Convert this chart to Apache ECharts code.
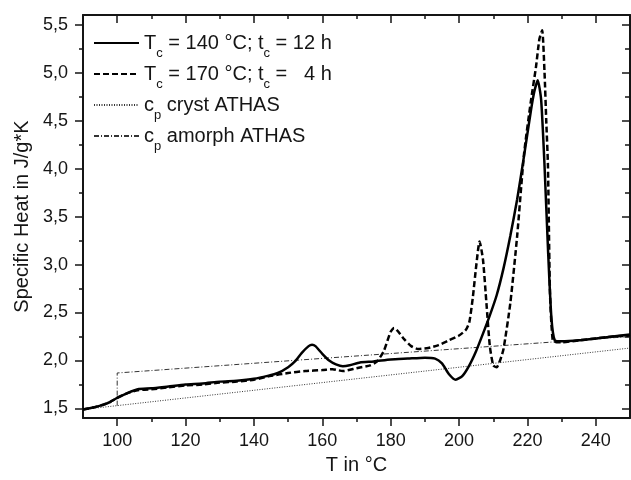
<!DOCTYPE html>
<html>
<head>
<meta charset="utf-8">
<script src="https://cdn.jsdelivr.net/npm/echarts@6/dist/echarts.min.js"></script>
<style>html,body{margin:0;padding:0;background:#fff;}#c{width:631px;height:480px;}</style>
</head>
<body>
<div id="c"></div>
<script>
// ---- data ----
const T140 = [90, 93, 96, 98, 100, 103, 106, 110, 115, 120, 125, 130, 135, 140, 144, 147, 150, 152, 154, 156, 157, 158, 160, 162, 164, 166, 168, 171, 175, 180, 185, 190, 193, 195, 197, 199, 201, 203, 205, 207, 209, 211, 213, 215, 217, 219, 221, 222, 223, 224, 225, 226, 227, 228, 230, 235, 240, 245, 250];
const cp140 = [1.49, 1.51, 1.54, 1.57, 1.61, 1.66, 1.70, 1.71, 1.73, 1.75, 1.76, 1.78, 1.79, 1.81, 1.84, 1.87, 1.93, 1.99, 2.08, 2.15, 2.165, 2.15, 2.07, 2.00, 1.96, 1.94, 1.95, 1.98, 1.99, 2.01, 2.02, 2.03, 2.02, 1.97, 1.86, 1.80, 1.84, 1.95, 2.10, 2.28, 2.47, 2.68, 2.96, 3.30, 3.68, 4.13, 4.60, 4.80, 4.92, 4.72, 4.03, 3.17, 2.45, 2.21, 2.20, 2.21, 2.23, 2.25, 2.27];

const T170 = [90, 93, 96, 98, 100, 103, 106, 110, 115, 120, 125, 130, 135, 140, 145, 150, 155, 160, 163, 166, 170, 174, 176, 178, 180, 181, 182, 184, 186, 188, 191, 194, 197, 200, 202, 203, 204, 205, 206, 207, 208, 209, 210, 211, 212, 213, 215, 217, 219, 221, 222.5, 223.5, 224.3, 225, 225.5, 226, 226.6, 227.4, 228.5, 230, 235, 240, 245, 250];
const cp170 = [1.49, 1.51, 1.54, 1.57, 1.61, 1.66, 1.69, 1.70, 1.72, 1.74, 1.75, 1.77, 1.78, 1.80, 1.84, 1.87, 1.89, 1.90, 1.91, 1.89, 1.92, 1.95, 1.99, 2.10, 2.30, 2.34, 2.31, 2.22, 2.15, 2.12, 2.13, 2.16, 2.21, 2.26, 2.32, 2.40, 2.65, 2.98, 3.24, 3.05, 2.60, 2.15, 1.95, 1.93, 2.00, 2.12, 2.60, 3.30, 4.15, 4.70, 5.06, 5.35, 5.44, 5.00, 4.50, 4.03, 2.70, 2.21, 2.19, 2.19, 2.21, 2.23, 2.25, 2.26];

const Tcryst = [90, 250];
const cpCryst = [1.49, 2.13];

const Tamorph = [100, 100, 250];
const cpAmorph = [1.53, 1.87, 2.25];

const xMajor = [100, 120, 140, 160, 180, 200, 220, 240];
const xMinor = [110, 130, 150, 170, 190, 210, 230];
const yMajor = [1.5, 2.0, 2.5, 3.0, 3.5, 4.0, 4.5, 5.0, 5.5];
const yMinor = [1.75, 2.25, 2.75, 3.25, 3.75, 4.25, 4.75, 5.25];

const names = ['s140', 's170', 'cryst', 'amorph'];
const legendRich = {
  s140: '{n|T}{s|c}{n| = 140 °C; t}{s|c}{n| = 12 h}',
  s170: '{n|T}{s|c}{n| = 170 °C; t}{s|c}{n| =   4 h}',
  cryst: '{n|c}{s|p}{n| cryst ATHAS}',
  amorph: '{n|c}{s|p}{n| amorph ATHAS}'
};

const zip = (a, b) => a.map((v, i) => [v, b[i]]);
const FONT = 'Liberation Sans, Arial, sans-serif';
const INK = '#151515';

function xAx(pos, inside, vals, len, withLine, labels) {
  return {
    type: 'value', min: 90, max: 250, position: pos,
    axisLine: { show: withLine, onZero: false, lineStyle: { color: INK, width: 2 } },
    axisTick: { show: true, inside: inside, length: len, customValues: vals, lineStyle: { color: INK, width: 1.5 } },
    axisLabel: labels ? { show: true, customValues: xMajor, color: INK, fontSize: 18, fontFamily: FONT, margin: 14 } : { show: false },
    splitLine: { show: false },
    name: labels ? 'T in °C' : '', nameLocation: 'middle', nameGap: 36,
    nameTextStyle: { fontSize: 20, fontFamily: FONT, color: INK }
  };
}
function yAx(pos, inside, vals, len, withLine, labels) {
  return {
    type: 'value', min: 1.4, max: 5.6, position: pos,
    axisLine: { show: withLine, onZero: false, lineStyle: { color: INK, width: 2 } },
    axisTick: { show: true, inside: inside, length: len, customValues: vals, lineStyle: { color: INK, width: 1.5 } },
    axisLabel: labels ? { show: true, customValues: yMajor, color: INK, fontSize: 18, fontFamily: FONT, margin: 15,
      formatter: v => v.toFixed(1).replace('.', ',') } : { show: false },
    splitLine: { show: false },
    name: labels ? 'Specific Heat in J/g*K' : '', nameLocation: 'middle', nameGap: 46, nameRotate: 90,
    nameTextStyle: { fontSize: 20, fontFamily: FONT, color: INK }
  };
}

const chart = echarts.init(document.getElementById('c'), null, { renderer: 'canvas' });
chart.setOption({
  animation: false,
  backgroundColor: '#fff',
  grid: { left: 83, right: 1, top: 15, bottom: 59, containLabel: false },
  legend: {
    orient: 'vertical', left: 88, top: 21, itemWidth: 45, itemHeight: 14, itemGap: -3,
    data: names, selectedMode: false,
    itemStyle: { opacity: 0 },
    formatter: n => legendRich[n],
    textStyle: {
      color: INK, fontFamily: FONT,
      rich: {
        n: { fontSize: 20, lineHeight: 20, fontFamily: FONT, color: INK },
        s: { fontSize: 13, lineHeight: 13, padding: [21, 0, 0, 0], fontFamily: FONT, color: INK }
      }
    }
  },
  xAxis: [
    xAx('bottom', false, xMajor, 8, true, true),
    xAx('bottom', false, xMinor, 4, false, false),
    xAx('top', true, xMajor, 8, true, false),
    xAx('top', true, xMinor, 4, false, false)
  ],
  yAxis: [
    yAx('left', false, yMajor, 8, true, true),
    yAx('left', false, yMinor, 4, false, false),
    yAx('right', true, yMajor, 8, true, false),
    yAx('right', true, yMinor, 5, false, false)
  ],
  series: [
    { name: 's140', type: 'line', symbol: 'none', smooth: 0.2, data: zip(T140, cp140),
      lineStyle: { color: '#000', width: 2.5, type: 'solid' }, itemStyle: { color: '#000' }, z: 4 },
    { name: 's170', type: 'line', symbol: 'none', smooth: 0.2, data: zip(T170, cp170),
      lineStyle: { color: '#000', width: 2.5, type: [6, 3] }, itemStyle: { color: '#000' }, z: 3 },
    { name: 'cryst', type: 'line', symbol: 'none', data: zip(Tcryst, cpCryst),
      lineStyle: { color: '#333', width: 1, type: [1, 1.5] }, itemStyle: { color: '#333' }, z: 2 },
    { name: 'amorph', type: 'line', symbol: 'none', data: zip(Tamorph, cpAmorph),
      lineStyle: { color: '#333', width: 1, type: [5, 2, 1, 2] }, itemStyle: { color: '#333' }, z: 2 }
  ]
});
</script>
</body>
</html>
